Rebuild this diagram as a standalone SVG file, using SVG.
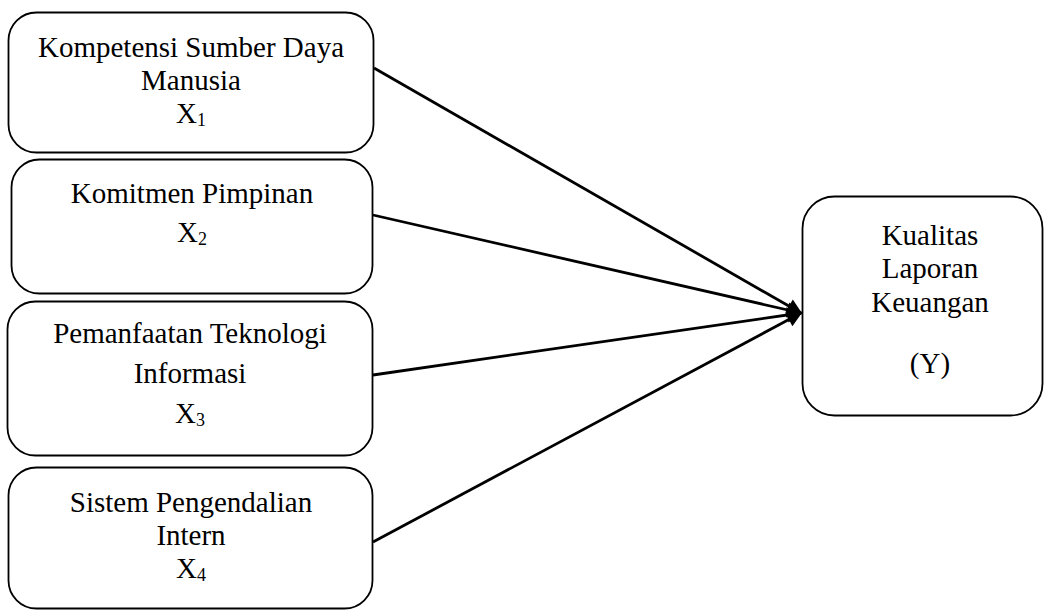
<svg xmlns="http://www.w3.org/2000/svg" width="1046" height="613" viewBox="0 0 1046 613">
<style>
.box{fill:#fff;stroke:#000;stroke-width:1.8}
.t{font-family:"Liberation Serif","Times New Roman",serif;font-size:29px;fill:#000;text-anchor:middle}
.sub{font-size:18px}
.c{stroke:#000;stroke-width:2.8;fill:none;marker-end:url(#ah)}
</style>
<defs>
<marker id="ah" viewBox="0 0 10 10" refX="9" refY="5" markerWidth="7" markerHeight="5.5" orient="auto" markerUnits="strokeWidth">
<path d="M0,0 L10,5 L0,10 z" fill="#000"/>
</marker>
</defs>
<rect width="1046" height="613" fill="#fff"/>
<g id="connectors">
<line class="c" x1="374" y1="68" x2="801" y2="313"/>
<line class="c" x1="373" y1="215" x2="801" y2="313"/>
<line class="c" x1="373" y1="375" x2="801" y2="313"/>
<line class="c" x1="373" y1="542" x2="801" y2="313"/>
</g>
<g id="x1">
<rect class="box" x="8.5" y="12.5" width="365" height="140" rx="28"/>
<text class="t" x="191" y="57">Kompetensi Sumber Daya</text>
<text class="t" x="191" y="90">Manusia</text>
<text class="t" x="191" y="123">X<tspan class="sub" dy="3">1</tspan></text>
</g>
<g id="x2">
<rect class="box" x="11.5" y="159.5" width="361" height="134" rx="28"/>
<text class="t" x="192" y="203">Komitmen Pimpinan</text>
<text class="t" x="192" y="242">X<tspan class="sub" dy="3">2</tspan></text>
</g>
<g id="x3">
<rect class="box" x="7.5" y="301.5" width="365" height="154" rx="28"/>
<text class="t" x="190" y="343">Pemanfaatan Teknologi</text>
<text class="t" x="190" y="383">Informasi</text>
<text class="t" x="190" y="423">X<tspan class="sub" dy="3">3</tspan></text>
</g>
<g id="x4">
<rect class="box" x="8.5" y="467.5" width="364" height="141" rx="28"/>
<text class="t" x="191" y="512">Sistem Pengendalian</text>
<text class="t" x="191" y="545">Intern</text>
<text class="t" x="191" y="578">X<tspan class="sub" dy="3">4</tspan></text>
</g>
<g id="y">
<rect class="box" x="802.5" y="196.5" width="240" height="219" rx="32"/>
<text class="t" x="930" y="245">Kualitas</text>
<text class="t" x="930" y="278">Laporan</text>
<text class="t" x="930" y="312">Keuangan</text>
<text class="t" x="930" y="373">(Y)</text>
</g>
</svg>
